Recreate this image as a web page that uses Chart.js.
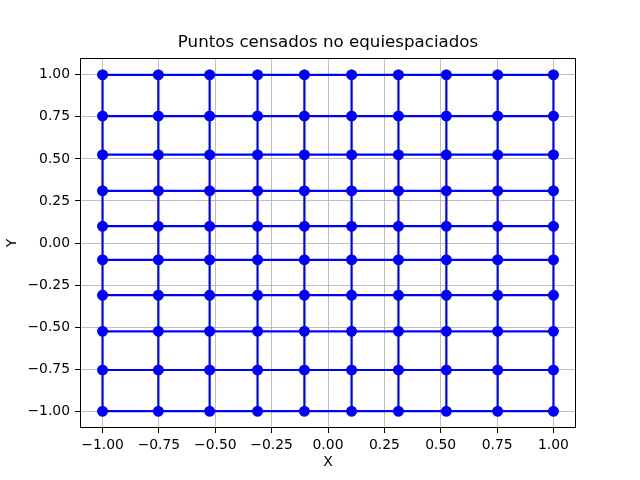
<!DOCTYPE html>
<html>
<head>
<meta charset="utf-8">
<script src="https://cdn.jsdelivr.net/npm/chart.js@4/dist/chart.umd.min.js"></script>
<style>
html,body{margin:0;padding:0;background:#fff;}
#wrap{width:640px;height:480px;}
</style>
</head>
<body>
<div id="wrap"><canvas id="c" width="640" height="480"></canvas></div>
<script>
const xNodes = [-1.0, -0.7525, -0.525, -0.3125, -0.1047, 0.1047, 0.3125, 0.525, 0.7525, 1.0];
const yNodes = [-1.0, -0.755, -0.525, -0.31, -0.10, 0.10, 0.31, 0.525, 0.755, 1.0];
const xTicks = [-1.0, -0.75, -0.5, -0.25, 0.0, 0.25, 0.5, 0.75, 1.0];
const yTicks = [-1.0, -0.75, -0.5, -0.25, 0.0, 0.25, 0.5, 0.75, 1.0];
const titleText = 'Puntos censados no equiespaciados';
const xLabel = 'X';
const yLabel = 'Y';

const BLUE = '#0000ff';
const datasets = [];
function mk(data){
  return {data, showLine:true, borderColor:BLUE, borderWidth:2.2, backgroundColor:BLUE,
    pointRadius:5.3, pointBackgroundColor:BLUE, pointBorderWidth:0, pointHoverRadius:5.3, fill:false};
}
yNodes.forEach(y => datasets.push(mk(xNodes.map(x => ({x, y})))));
xNodes.forEach(x => datasets.push(mk(yNodes.map(y => ({x, y})))));

const fmt = v => { const s = Math.abs(v).toFixed(2); return (v < -1e-9 ? '\u2212' : '') + s; };
const tickFont = {family:'DejaVu Sans', size:13.9};

const frame = {
  id:'frame',
  afterDatasetsDraw(chart){
    const {ctx, chartArea:a} = chart;
    ctx.save();
    ctx.strokeStyle = '#000';
    ctx.lineWidth = 1;
    ctx.strokeRect(Math.round(a.left)+0.5, Math.round(a.top)+0.5, Math.round(a.right-a.left)-1, Math.round(a.bottom-a.top)-1);
    ctx.restore();
  }
};

new Chart(document.getElementById('c'), {
  type:'scatter',
  data:{datasets},
  options:{
    responsive:false, animation:false, devicePixelRatio:1,
    layout:{padding:{left:16, right:0, top:0, bottom:0}},
    plugins:{
      legend:{display:false}, tooltip:{enabled:false},
      title:{display:true, text:titleText, color:'#000', font:{family:'DejaVu Sans', size:16.67, weight:'normal'}, padding:{top:33, bottom:5}}
    },
    scales:{
      x:{type:'linear', min:-1.1, max:1.1,
        afterBuildTicks(s){ s.ticks = xTicks.map(v => ({value:v})); },
        afterFit(s){ s.height = 52; },
        ticks:{callback:fmt, color:'#000', font:tickFont, padding:4, maxRotation:0, autoSkip:false},
        grid:{color:'#b0b0b0', lineWidth:0.8, tickColor:'#000', tickLength:5, tickWidth:1},
        border:{display:false},
        title:{display:true, text:xLabel, color:'#000', font:tickFont, padding:{top:0, bottom:9.5}}
      },
      y:{type:'linear', min:-1.1, max:1.1,
        afterBuildTicks(s){ s.ticks = yTicks.map(v => ({value:v})); },
        afterFit(s){ s.width = 64; },
        ticks:{callback:fmt, color:'#000', font:tickFont, padding:5, autoSkip:false},
        grid:{color:'#b0b0b0', lineWidth:0.8, tickColor:'#000', tickLength:5, tickWidth:1},
        border:{display:false},
        title:{display:true, text:yLabel, color:'#000', font:tickFont, padding:{top:-11.5, bottom:0}}
      },
      yRight:{type:'linear', position:'right', min:-1.1, max:1.1,
        afterFit(s){ s.width = 64; },
        ticks:{display:false},
        grid:{display:false, drawTicks:false},
        border:{display:false}
      }
    }
  },
  plugins:[frame]
});
</script>
</body>
</html>
